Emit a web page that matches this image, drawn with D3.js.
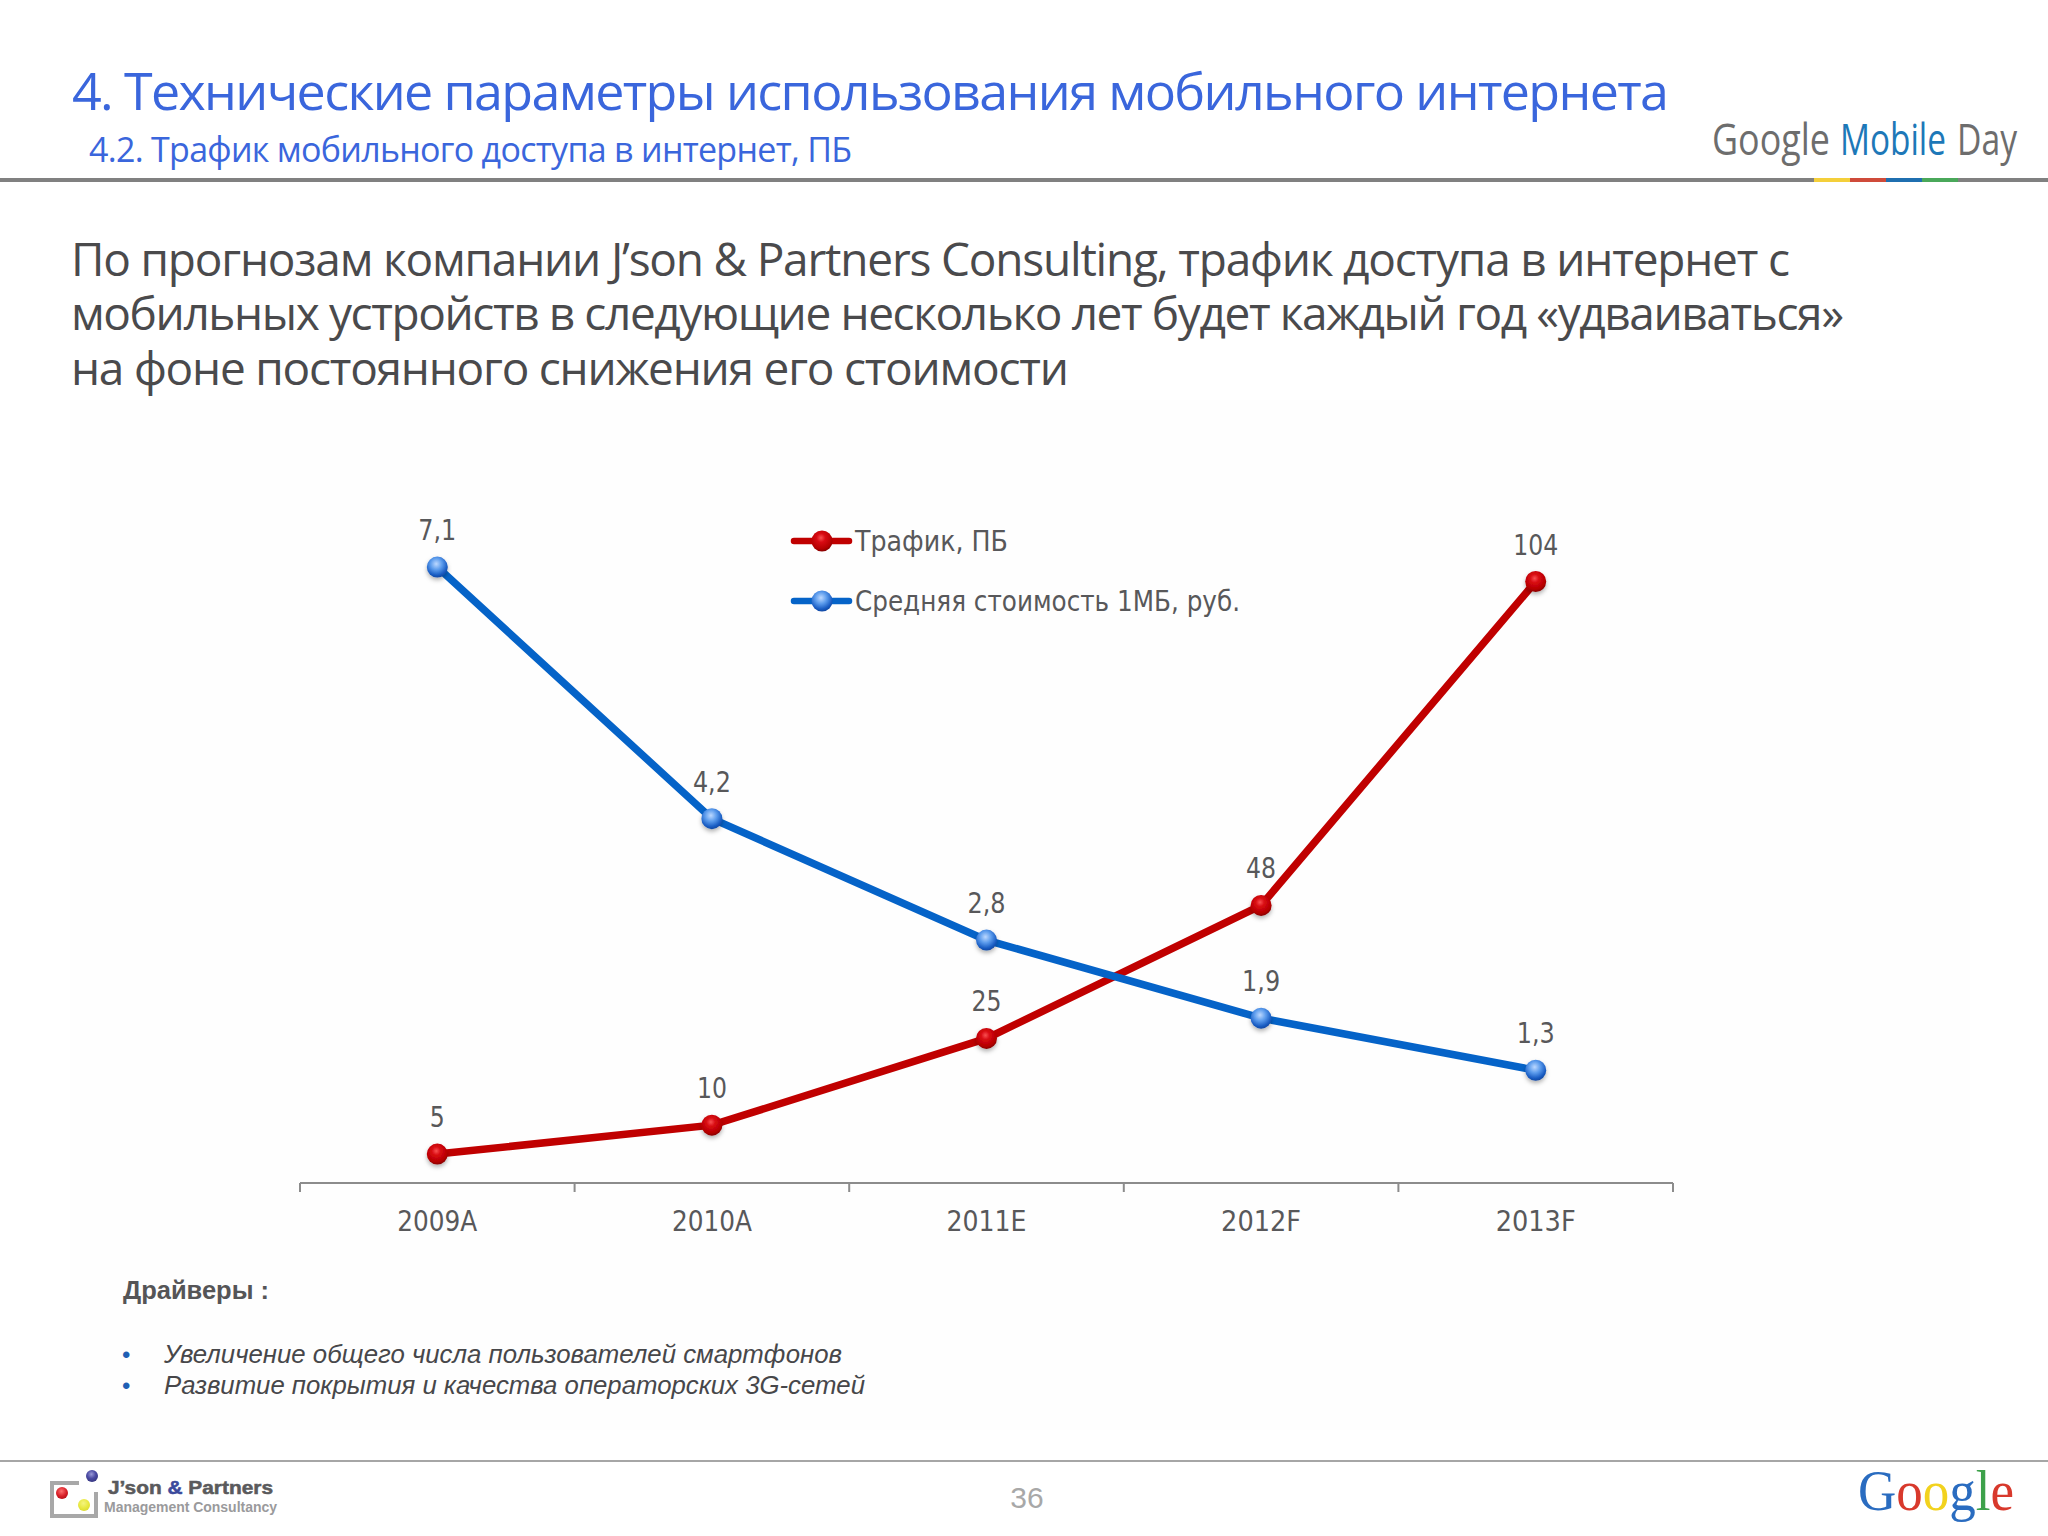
<!DOCTYPE html>
<html><head><meta charset="utf-8">
<script src="https://cdn.jsdelivr.net/npm/d3@7"></script>
<style>html,body{margin:0;padding:0;background:#fff}svg{display:block}</style>
</head><body><svg id="c" width="2048" height="1536"></svg>
<script>
const categories = ["2009A","2010A","2011E","2012F","2013F"];
const trafficValues = [5,10,25,48,104];
const costValues = [7.1,4.2,2.8,1.9,1.3];
const costLabels = ["7,1","4,2","2,8","1,9","1,3"];
const seriesNames = ["Трафик, ПБ","Средняя стоимость 1МБ, руб."];
const titleText = "4. Технические параметры использования мобильного интернета";
const subtitleText = "4.2. Трафик мобильного доступа в интернет, ПБ";
const headingLines = ["По прогнозам компании J’son & Partners Consulting, трафик доступа в интернет с",
 "мобильных устройств в следующие несколько лет будет каждый год «удваиваться»",
 "на фоне постоянного снижения его стоимости"];
const driversTitle = "Драйверы :";
const driverItems = ["Увеличение общего числа пользователей смартфонов","Развитие покрытия и качества операторских 3G-сетей"];

const svg = d3.select("#c");
const defs = svg.append("defs");
function ball(id, stops){
  const g = defs.append("radialGradient").attr("id",id).attr("cx","45%").attr("cy","35%").attr("r","70%");
  stops.forEach(s=>g.append("stop").attr("offset",s[0]).attr("stop-color",s[1]));
}
ball("redBall",[[0,"#f85050"],[.3,"#d80a12"],[.75,"#b40000"],[1,"#740000"]]);
ball("blueBall",[[0,"#bcd8ff"],[.4,"#5b9bec"],[.75,"#1b5ec4"],[1,"#0c3f96"]]);
ball("purpleBall",[[0,"#9a9ad8"],[.5,"#4c4ca4"],[1,"#33337c"]]);
ball("redSmall",[[0,"#ff7070"],[.6,"#d82028"],[1,"#b01018"]]);
ball("yellowSmall",[[0,"#f4f480"],[.6,"#e8e840"],[1,"#d8d830"]]);
const shadow = defs.append("filter").attr("id","soft").attr("x","-50%").attr("y","-50%").attr("width","200%").attr("height","220%");
shadow.append("feDropShadow").attr("dx",0).attr("dy",2.5).attr("stdDeviation",2).attr("flood-color","#000").attr("flood-opacity",.3);

const OS = "'Open Sans'", TA = "'DejaVu Sans'", LS = "'Liberation Sans'";
function txt(x,y,s,size,fill,fam,extra={}){
  const t = svg.append("text").attr("x",x).attr("y",y).attr("font-family",fam).attr("font-size",size).attr("fill",fill).text(s);
  Object.entries(extra).forEach(([k,v])=>t.attr(k,v));
  return t;
}
// faint panel
svg.append("rect").attr("x",70).attr("y",400).attr("width",1900).attr("height",1030).attr("fill","#fefefe");

// header
txt(72,110,titleText,52,"#3a66dc",OS,{textLength:1597,lengthAdjust:"spacing"});
txt(89,162,subtitleText,34,"#3a66dc",OS,{textLength:763,lengthAdjust:"spacing"});
svg.append("rect").attr("x",0).attr("y",178).attr("width",2048).attr("height",4).attr("fill","#808080");
["#f4cf3a","#cf4b3a","#1f6fb0","#4aa85a"].forEach((c,i)=>svg.append("rect").attr("x",1814+36*i).attr("y",178).attr("width",36).attr("height",4).attr("fill",c));
txt(1712,155,"Google",44,"#6d6d6d",OS,{textLength:118,lengthAdjust:"spacingAndGlyphs"});
txt(1840,155,"Mobile",44,"#1d78b8",OS,{textLength:106,lengthAdjust:"spacingAndGlyphs"});
txt(1957,155,"Day",44,"#6d6d6d",OS,{textLength:60,lengthAdjust:"spacingAndGlyphs"});

headingLines.forEach((l,i)=>{
  txt(71,[276,330,385][i],l,46,"#4a4a4c",OS,{textLength:[1719,1773,998][i],lengthAdjust:"spacing"});
});

// chart
const x = d3.scaleBand().domain(categories).range([300,1673]);
const yT = d3.scaleLinear().domain([0,120]).range([1183,489]);
const yC = d3.scaleLinear().domain([0,8]).range([1183,489]);
const cx = c => x(c)+x.bandwidth()/2;
const axis = svg.append("g").attr("transform","translate(0,1183)").call(d3.axisBottom(x).tickSize(0).tickPadding(0));
axis.select(".domain").remove();
axis.selectAll("text").remove();
const edges = [...categories.map(c=>x(c)), x.range()[1]];
axis.selectAll("line.e").data(edges).join("line").attr("class","e").attr("x1",d=>d).attr("x2",d=>d).attr("y1",0).attr("y2",9).attr("stroke","#8c8c8c").attr("stroke-width",2);
axis.append("line").attr("x1",300).attr("x2",1673).attr("stroke","#8c8c8c").attr("stroke-width",2);
categories.forEach(c=>txt(cx(c),1231,c,28,"#58585a",TA,{"text-anchor":"middle",textLength:80,lengthAdjust:"spacingAndGlyphs"}));

function series(vals,scale,col,grad,labels){
  const pts = vals.map((v,i)=>[cx(categories[i]),scale(v)]);
  svg.append("path").attr("d",d3.line()(pts)).attr("fill","none").attr("stroke",col).attr("stroke-width",7.5);
  svg.append("g").selectAll("circle").data(pts).join("circle").attr("cx",d=>d[0]).attr("cy",d=>d[1]).attr("r",10.5)
    .attr("fill",`url(#${grad})`).attr("filter","url(#soft)");
  pts.forEach((p,i)=>{
    const s = String(labels[i]);
    const w = s.replace(",","").length*15 + (s.includes(",")?8:0);
    txt(p[0],p[1]-27,s,29,"#58585a",TA,{"text-anchor":"middle",textLength:w,lengthAdjust:"spacingAndGlyphs"});
  });
}
series(trafficValues,yT,"#c00000","redBall",trafficValues.map(String));
series(costValues,yC,"#0563c8","blueBall",costLabels);

// legend
[["#c00000","redBall",541],["#0563c8","blueBall",601]].forEach((l,i)=>{
  svg.append("line").attr("x1",794).attr("x2",849).attr("y1",l[2]).attr("y2",l[2]).attr("stroke",l[0]).attr("stroke-width",6.5).attr("stroke-linecap","round");
  svg.append("circle").attr("cx",822).attr("cy",l[2]).attr("r",10.5).attr("fill",`url(#${l[1]})`);
  txt(855,l[2]+10,seriesNames[i],28,"#58585a",TA,{textLength:[153,385][i],lengthAdjust:"spacingAndGlyphs"});
});

// drivers
txt(123,1299,driversTitle,25.5,"#555557",LS,{"font-weight":"bold"});
driverItems.forEach((d,i)=>{
  const by = 1363+31*i;
  txt(122,by,"•",24,"#1f5fb4",LS);
  txt(164,by,d,25.5,"#47474a",LS,{"font-style":"italic",textLength:[678,701][i],lengthAdjust:"spacingAndGlyphs"});
});

// footer
svg.append("rect").attr("x",0).attr("y",1460).attr("width",2048).attr("height",2).attr("fill","#a6a6a6");
svg.append("path").attr("d","M79 1483H52V1516H96V1492").attr("fill","none").attr("stroke","#a8a8a8").attr("stroke-width",4);
svg.append("circle").attr("cx",92).attr("cy",1476).attr("r",6).attr("fill","url(#purpleBall)");
svg.append("circle").attr("cx",62).attr("cy",1493).attr("r",6).attr("fill","url(#redSmall)");
svg.append("circle").attr("cx",84).attr("cy",1505).attr("r",6).attr("fill","url(#yellowSmall)");
const js = txt(108,1494,"",18,"#5a5a5c",LS,{"font-weight":"bold",textLength:165,lengthAdjust:"spacingAndGlyphs",stroke:"#5a5a5c","stroke-width":.5});
js.append("tspan").text("J’son ");
js.append("tspan").attr("fill","#3c4a9c").attr("stroke","#3c4a9c").text("& ");
js.append("tspan").text("Partners");
txt(104,1512,"Management Consultancy",14,"#9a9a9c",LS,{"font-weight":"bold",textLength:173,lengthAdjust:"spacing"});
txt(1027,1508,"36",30,"#a8a8a8",LS,{"text-anchor":"middle"});
const gg = txt(1858,1510,"",57,"#1f62c0","'Liberation Serif'",{textLength:156,lengthAdjust:"spacingAndGlyphs"});
[["G","#2a6cc0"],["o","#d8392c"],["o","#f2d21e"],["g","#2a6cc0"],["l","#3da14a"],["e","#d8392c"]].forEach(a=>gg.append("tspan").attr("fill",a[1]).text(a[0]));
</script></body></html>
